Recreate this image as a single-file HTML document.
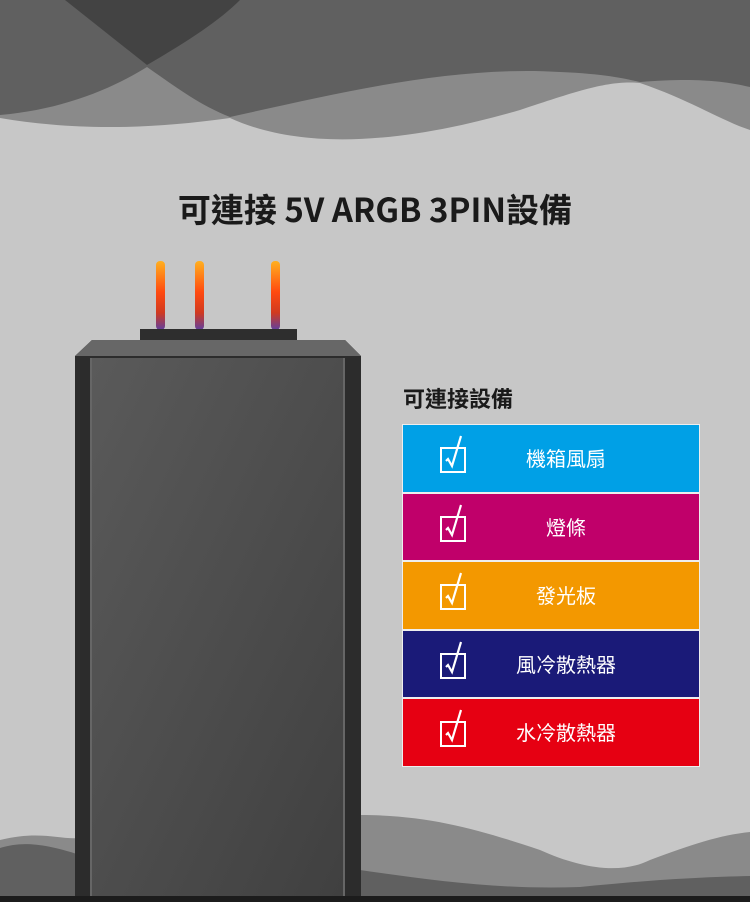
<!DOCTYPE html>
<html><head><meta charset="utf-8"><style>
body{margin:0;width:750px;height:902px;overflow:hidden;background:#c7c7c7;position:relative;font-family:"Liberation Sans","Noto Sans CJK TC",sans-serif}
svg{position:absolute;left:0;top:0}
.t{position:absolute;left:0;width:750px;text-align:center;top:184px;font-size:33px;font-weight:bold;color:#1a1a1a;font-family:"Noto Sans CJK TC",sans-serif}
.s{position:absolute;left:403px;top:382px;font-size:22px;font-weight:bold;color:#1a1a1a;font-family:"Noto Sans CJK TC",sans-serif}
.tbl{position:absolute;left:402px;top:424px;width:296px;border:1px solid #eee;background:#eee}
.r{height:66.5px;margin-bottom:2px;position:relative;color:#fff;font-size:20px;line-height:66px;text-align:center;padding-left:30px;box-sizing:border-box;font-family:"Noto Sans CJK TC",sans-serif}
.r:last-child{margin-bottom:0}
.r svg{position:absolute;left:36px;top:8px}
</style></head><body>
<svg width="750" height="902">
<rect x="0" y="0" width="750" height="140" fill="#c7c7c7"/>
<path d="M0,118 C60,128 130,132 230,118 C300,150 400,145 520,110 C580,90 610,80 640,83 C690,100 720,120 750,130 L750,0 L0,0Z" fill="#8a8a8a"/>
<path d="M0,115 C60,110 110,90 147,67 C180,90 200,105 230,117 C330,95 450,65 560,72 C610,74 630,80 640,82 C690,78 720,80 750,87 L750,0 L0,0Z" fill="#606060"/>
<path d="M65,0 L147,65 C190,40 220,20 240,0Z" fill="#434343"/>
<path d="M0,840 C40,830 60,840 80,838 L360,815 C430,815 480,830 540,850 C580,868 620,875 650,860 C690,845 720,835 750,832 L750,902 L0,902Z" fill="#8a8a8a"/>
<path d="M0,848 C20,842 40,842 80,855 L360,870 C430,880 500,890 580,887 C650,880 700,877 750,876 L750,902 L0,902Z" fill="#606060"/>
<rect x="0" y="896" width="750" height="6" fill="#1c1c1c"/>
<defs>
<linearGradient id="pin" x1="0" y1="0" x2="0" y2="1"><stop offset="0" stop-color="#ffb020"/><stop offset="0.45" stop-color="#ff4a10"/><stop offset="0.75" stop-color="#d03a20"/><stop offset="1" stop-color="#6040a0"/></linearGradient>
<linearGradient id="bd" x1="0" y1="0" x2="1" y2="1"><stop offset="0" stop-color="#5a5a5a"/><stop offset="1" stop-color="#404040"/></linearGradient>
</defs>
<rect x="156" y="261" width="9" height="69" rx="4" fill="url(#pin)"/>
<rect x="195" y="261" width="9" height="69" rx="4" fill="url(#pin)"/>
<rect x="271" y="261" width="9" height="69" rx="4" fill="url(#pin)"/>
<rect x="140" y="329" width="157" height="11" fill="#2e2e2e"/>
<path d="M92,340 L345,340 L361,356 L361,896 L75,896 L75,356Z" fill="#2c2c2c"/>
<path d="M92,340 L345,340 L361,356 L75,356Z" fill="#676767"/>
<rect x="92" y="358" width="253" height="538" fill="url(#bd)"/>
<rect x="90" y="358" width="2" height="538" fill="#666"/>
<rect x="343" y="358" width="2" height="538" fill="#666"/>
</svg>
<div class="t">可連接 5V ARGB 3PIN設備</div>
<div class="s">可連接設備</div>
<div class="tbl">
<div class="r" style="background:#00a0e6"><svg width="34" height="48"><rect x="2" y="15" width="24" height="24" fill="none" stroke="#fff" stroke-width="2"/><path d="M7,28 L9,26 L13,33 L22,3" fill="none" stroke="#fff" stroke-width="2.2"/></svg>機箱風扇</div>
<div class="r" style="background:#c0006a"><svg width="34" height="48"><rect x="2" y="15" width="24" height="24" fill="none" stroke="#fff" stroke-width="2"/><path d="M7,28 L9,26 L13,33 L22,3" fill="none" stroke="#fff" stroke-width="2.2"/></svg>燈條</div>
<div class="r" style="background:#f39800"><svg width="34" height="48"><rect x="2" y="15" width="24" height="24" fill="none" stroke="#fff" stroke-width="2"/><path d="M7,28 L9,26 L13,33 L22,3" fill="none" stroke="#fff" stroke-width="2.2"/></svg>發光板</div>
<div class="r" style="background:#1a1a78"><svg width="34" height="48"><rect x="2" y="15" width="24" height="24" fill="none" stroke="#fff" stroke-width="2"/><path d="M7,28 L9,26 L13,33 L22,3" fill="none" stroke="#fff" stroke-width="2.2"/></svg>風冷散熱器</div>
<div class="r" style="background:#e60012"><svg width="34" height="48"><rect x="2" y="15" width="24" height="24" fill="none" stroke="#fff" stroke-width="2"/><path d="M7,28 L9,26 L13,33 L22,3" fill="none" stroke="#fff" stroke-width="2.2"/></svg>水冷散熱器</div>
</div>
</body></html>
